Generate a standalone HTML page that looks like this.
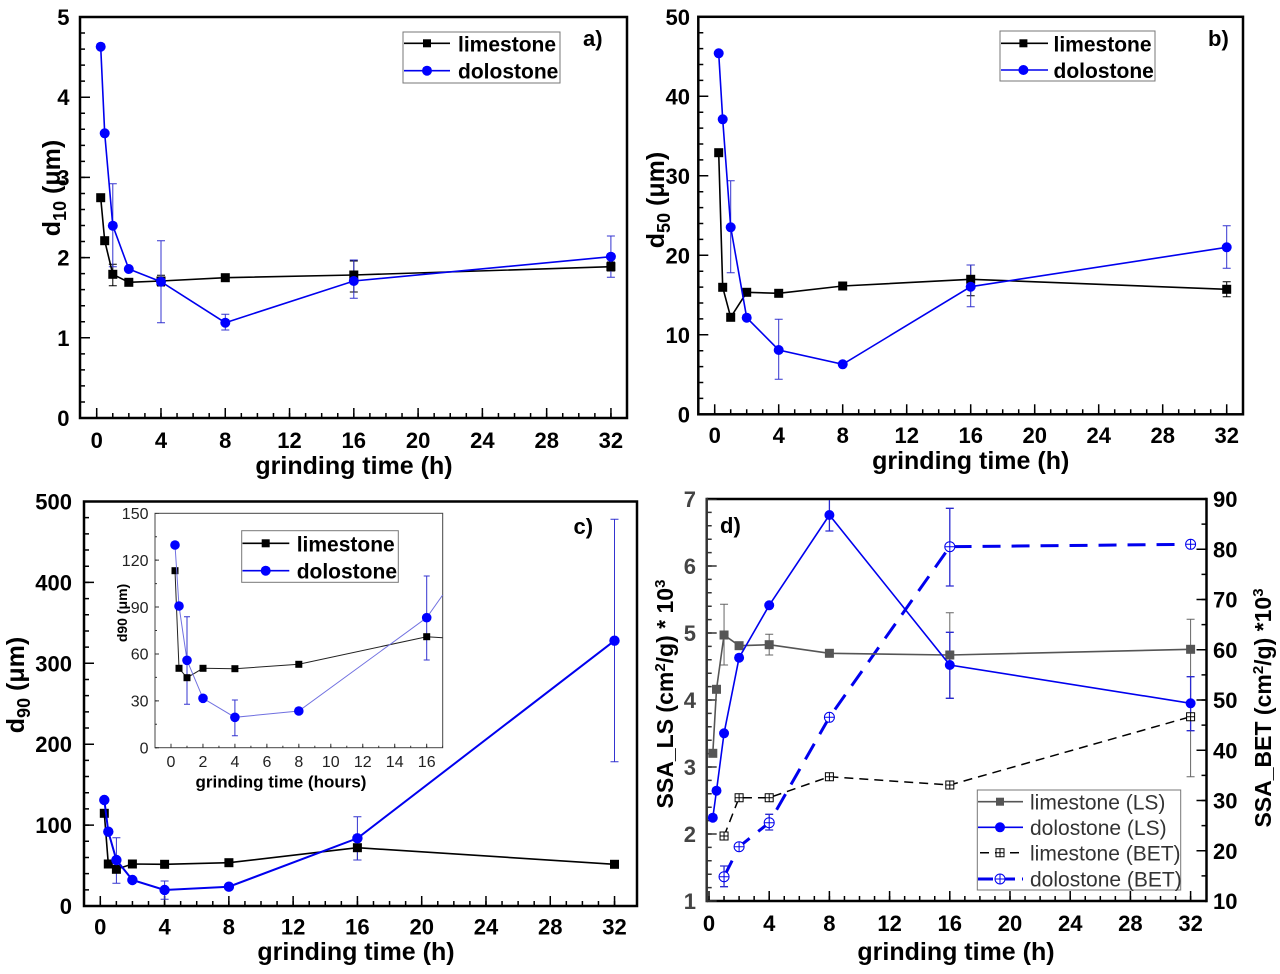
<!DOCTYPE html>
<html><head><meta charset="utf-8"><style>
html,body{margin:0;padding:0;background:#fff;}
svg{display:block;}
text{font-family:"Liberation Sans",Arial,sans-serif;}
</style></head><body>
<svg width="1280" height="974" viewBox="0 0 1280 974" xmlns="http://www.w3.org/2000/svg">
<rect width="1280" height="974" fill="#fff"/>

<!-- ================= PANEL A ================= -->
<g>
<rect x="80" y="17" width="547" height="401" fill="none" stroke="#000" stroke-width="2.5"/>
<g stroke="#000">
<line x1="95.95" y1="415.5" x2="612" y2="415.5" stroke-width="5" stroke-dasharray="1.5 14.57"/>
<line x1="95.95" y1="413" x2="612" y2="413" stroke-width="10" stroke-dasharray="1.5 62.78"/>
<line x1="82.5" y1="418.75" x2="82.5" y2="17" stroke-width="5" stroke-dasharray="1.5 14.54"/>
<line x1="85" y1="418.75" x2="85" y2="17" stroke-width="10" stroke-dasharray="1.5 78.7"/>
</g>
<g font-size="22" font-weight="bold" text-anchor="middle">
<text x="96.7" y="448">0</text><text x="161" y="448">4</text><text x="225.3" y="448">8</text>
<text x="289.5" y="448">12</text><text x="353.8" y="448">16</text><text x="418.1" y="448">20</text>
<text x="482.4" y="448">24</text><text x="546.7" y="448">28</text><text x="610.9" y="448">32</text>
</g>
<g font-size="22" font-weight="bold" text-anchor="end">
<text x="69.5" y="426">0</text><text x="69.5" y="345.8">1</text><text x="69.5" y="265.6">2</text>
<text x="69.5" y="185.4">3</text><text x="69.5" y="105.2">4</text><text x="69.5" y="25">5</text>
</g>
<text x="354" y="474" font-size="25" font-weight="bold" text-anchor="middle">grinding time (h)</text>
<text transform="translate(60,188) rotate(-90)" font-size="25" font-weight="bold" text-anchor="middle">d<tspan dy="6" font-size="18">10</tspan><tspan dy="-6"> (μm)</tspan></text>
<text x="583" y="46" font-size="22" font-weight="bold">a)</text>
<path d="M112.8 264.3V285.7M108.8 264.3H116.8M108.8 285.7H116.8 M161 275.3V286M157 275.3H165M157 286H165 M353.8 261V292M349.8 261H357.8M349.8 292H357.8 M610.9 262V271M606.9 262H614.9M606.9 271H614.9" stroke="#000" stroke-width="1" fill="none"/>
<path d="M112.8 183.7V266.7M108.8 183.7H116.8M108.8 266.7H116.8 M161 240.7V322.7M157 240.7H165M157 322.7H165 M225.3 314.3V330M221.3 314.3H229.3M221.3 330H229.3 M353.8 260V298.3M349.8 260H357.8M349.8 298.3H357.8 M610.9 236V277.3M606.9 236H614.9M606.9 277.3H614.9" stroke="#3434d0" stroke-width="1" fill="none"/>
<polyline points="100.7,197.7 104.7,240.7 112.8,274.3 128.8,282.3 161,281 225.3,277.7 353.8,275 610.9,266.7" fill="none" stroke="#000" stroke-width="1.6"/>
<g fill="#000">
<rect x="96.2" y="193.2" width="9" height="9"/><rect x="100.2" y="236.2" width="9" height="9"/><rect x="108.3" y="269.8" width="9" height="9"/><rect x="124.3" y="277.8" width="9" height="9"/><rect x="156.5" y="276.5" width="9" height="9"/><rect x="220.8" y="273.2" width="9" height="9"/><rect x="349.3" y="270.5" width="9" height="9"/><rect x="606.4" y="262.2" width="9" height="9"/>
</g>
<polyline points="100.7,46.7 104.7,133.3 112.8,225.7 128.8,269 161,281.7 225.3,322.7 353.8,281 610.9,256.7" fill="none" stroke="#0000ee" stroke-width="1.6"/>
<g fill="#0000ff">
<circle cx="100.7" cy="46.7" r="5"/><circle cx="104.7" cy="133.3" r="5"/><circle cx="112.8" cy="225.7" r="5"/><circle cx="128.8" cy="269" r="5"/><circle cx="161" cy="281.7" r="5"/><circle cx="225.3" cy="322.7" r="5"/><circle cx="353.8" cy="281" r="5"/><circle cx="610.9" cy="256.7" r="5"/>
</g>
<rect x="403" y="32" width="157" height="51" fill="#fff" stroke="#777" stroke-width="1"/>
<line x1="404" y1="43.3" x2="450" y2="43.3" stroke="#000" stroke-width="1.6"/>
<rect x="423" y="39.3" width="8" height="8" fill="#000"/>
<line x1="404" y1="70.7" x2="450" y2="70.7" stroke="#0000ee" stroke-width="1.6"/>
<circle cx="427" cy="70.7" r="5" fill="#0000ff"/>
<text x="458" y="51.5" font-size="21" font-weight="bold">limestone</text>
<text x="458" y="78.7" font-size="21" font-weight="bold">dolostone</text>
</g>

<!-- ================= PANEL B ================= -->
<g>
<rect x="698.3" y="16.8" width="544.7" height="397.5" fill="none" stroke="#000" stroke-width="2.5"/>
<g stroke="#000">
<line x1="713.95" y1="411.8" x2="1228" y2="411.8" stroke-width="5" stroke-dasharray="1.5 14.5"/>
<line x1="713.95" y1="409.3" x2="1228" y2="409.3" stroke-width="10" stroke-dasharray="1.5 62.5"/>
<line x1="700.8" y1="415.05" x2="700.8" y2="16.8" stroke-width="5" stroke-dasharray="1.5 14.4"/>
<line x1="703.3" y1="415.05" x2="703.3" y2="16.8" stroke-width="10" stroke-dasharray="1.5 78"/>
</g>
<g font-size="22" font-weight="bold" text-anchor="middle">
<text x="714.7" y="443">0</text><text x="778.7" y="443">4</text><text x="842.7" y="443">8</text>
<text x="906.7" y="443">12</text><text x="970.7" y="443">16</text><text x="1034.7" y="443">20</text>
<text x="1098.7" y="443">24</text><text x="1162.7" y="443">28</text><text x="1226.7" y="443">32</text>
</g>
<g font-size="22" font-weight="bold" text-anchor="end">
<text x="690" y="422.3">0</text><text x="690" y="342.8">10</text><text x="690" y="263.3">20</text>
<text x="690" y="183.8">30</text><text x="690" y="104.3">40</text><text x="690" y="24.8">50</text>
</g>
<text x="970.7" y="469" font-size="25" font-weight="bold" text-anchor="middle">grinding time (h)</text>
<text transform="translate(664,200) rotate(-90)" font-size="25" font-weight="bold" text-anchor="middle">d<tspan dy="6" font-size="18">50</tspan><tspan dy="-6"> (μm)</tspan></text>
<text x="1208" y="46" font-size="22" font-weight="bold">b)</text>
<path d="M970.7 265V295.7M966.7 265H974.7M966.7 295.7H974.7 M1226.7 281.7V296.7M1222.7 281.7H1230.7M1222.7 296.7H1230.7" stroke="#000" stroke-width="1" fill="none"/>
<path d="M730.7 180.7V272.7M726.7 180.7H734.7M726.7 272.7H734.7 M778.7 319.3V379.3M774.7 319.3H782.7M774.7 379.3H782.7 M970.7 265V306.7M966.7 265H974.7M966.7 306.7H974.7 M1226.7 225.7V268.3M1222.7 225.7H1230.7M1222.7 268.3H1230.7" stroke="#3434d0" stroke-width="1" fill="none"/>
<polyline points="718.7,152.7 722.7,287.3 730.7,317.3 746.7,292.3 778.7,293.3 842.7,286 970.7,279.3 1226.7,289.3" fill="none" stroke="#000" stroke-width="1.6"/>
<g fill="#000">
<rect x="714.2" y="148.2" width="9" height="9"/><rect x="718.2" y="282.8" width="9" height="9"/><rect x="726.2" y="312.8" width="9" height="9"/><rect x="742.2" y="287.8" width="9" height="9"/><rect x="774.2" y="288.8" width="9" height="9"/><rect x="838.2" y="281.5" width="9" height="9"/><rect x="966.2" y="274.8" width="9" height="9"/><rect x="1222.2" y="284.8" width="9" height="9"/>
</g>
<polyline points="718.7,53.3 722.7,119.3 730.7,227.3 746.7,317.7 778.7,350 842.7,364.3 970.7,286.7 1226.7,247.3" fill="none" stroke="#0000ee" stroke-width="1.6"/>
<g fill="#0000ff">
<circle cx="718.7" cy="53.3" r="5"/><circle cx="722.7" cy="119.3" r="5"/><circle cx="730.7" cy="227.3" r="5"/><circle cx="746.7" cy="317.7" r="5"/><circle cx="778.7" cy="350" r="5"/><circle cx="842.7" cy="364.3" r="5"/><circle cx="970.7" cy="286.7" r="5"/><circle cx="1226.7" cy="247.3" r="5"/>
</g>
<rect x="1000" y="31" width="155" height="50" fill="#fff" stroke="#777" stroke-width="1"/>
<line x1="1001" y1="43.3" x2="1048" y2="43.3" stroke="#000" stroke-width="1.6"/>
<rect x="1019.4" y="39.3" width="8" height="8" fill="#000"/>
<line x1="1001" y1="70" x2="1048" y2="70" stroke="#0000ee" stroke-width="1.6"/>
<circle cx="1023.4" cy="70" r="5" fill="#0000ff"/>
<text x="1053.5" y="51.5" font-size="21" font-weight="bold">limestone</text>
<text x="1053.5" y="78" font-size="21" font-weight="bold">dolostone</text>
</g>

<!-- ================= PANEL C ================= -->
<g>
<rect x="84" y="501.5" width="553" height="404.5" fill="none" stroke="#000" stroke-width="2.5"/>
<g stroke="#000">
<line x1="99.55" y1="903.5" x2="616" y2="903.5" stroke-width="5" stroke-dasharray="1.5 14.57"/>
<line x1="99.55" y1="901" x2="616" y2="901" stroke-width="10" stroke-dasharray="1.5 62.78"/>
<line x1="86.5" y1="906.75" x2="86.5" y2="501.5" stroke-width="5" stroke-dasharray="1.5 14.68"/>
<line x1="89" y1="906.75" x2="89" y2="501.5" stroke-width="10" stroke-dasharray="1.5 79.4"/>
</g>
<g font-size="22" font-weight="bold" text-anchor="middle">
<text x="100.3" y="934.5">0</text><text x="164.6" y="934.5">4</text><text x="228.9" y="934.5">8</text>
<text x="293.1" y="934.5">12</text><text x="357.4" y="934.5">16</text><text x="421.7" y="934.5">20</text>
<text x="486" y="934.5">24</text><text x="550.3" y="934.5">28</text><text x="614.5" y="934.5">32</text>
</g>
<g font-size="22" font-weight="bold" text-anchor="end">
<text x="72" y="914">0</text><text x="72" y="833.1">100</text><text x="72" y="752.2">200</text>
<text x="72" y="671.3">300</text><text x="72" y="590.4">400</text><text x="72" y="509.5">500</text>
</g>
<text x="356" y="960" font-size="25" font-weight="bold" text-anchor="middle">grinding time (h)</text>
<text transform="translate(24,685) rotate(-90)" font-size="25" font-weight="bold" text-anchor="middle">d<tspan dy="6" font-size="18">90</tspan><tspan dy="-6"> (μm)</tspan></text>
<text x="573.5" y="534" font-size="22" font-weight="bold">c)</text>
<path d="M357.4 835V860M353.4 835H361.4M353.4 860H361.4" stroke="#000" stroke-width="1" fill="none"/>
<path d="M116.4 837.7V883.3M112.4 837.7H120.4M112.4 883.3H120.4 M164.6 881V899.3M160.6 881H168.6M160.6 899.3H168.6 M357.4 816.7V860M353.4 816.7H361.4M353.4 860H361.4 M614.5 519.3V761.7M610.5 519.3H618.5M610.5 761.7H618.5" stroke="#3434d0" stroke-width="1" fill="none"/>
<polyline points="104.3,813.3 108.3,864 116.4,869.3 132.4,864 164.6,864.3 228.9,862.7 357.4,847.7 614.5,864.3" fill="none" stroke="#000" stroke-width="1.6"/>
<g fill="#000">
<rect x="99.8" y="808.8" width="9" height="9"/><rect x="103.8" y="859.5" width="9" height="9"/><rect x="111.9" y="864.8" width="9" height="9"/><rect x="127.9" y="859.5" width="9" height="9"/><rect x="160.1" y="859.8" width="9" height="9"/><rect x="224.4" y="858.2" width="9" height="9"/><rect x="352.9" y="843.2" width="9" height="9"/><rect x="610" y="859.8" width="9" height="9"/>
</g>
<polyline points="104.3,800 108.3,831.7 116.4,860 132.4,880 164.6,890 228.9,886.7 357.4,838.3 614.5,640.7" fill="none" stroke="#0000ee" stroke-width="2"/>
<g fill="#0000ff">
<circle cx="104.3" cy="800" r="5.2"/><circle cx="108.3" cy="831.7" r="5.2"/><circle cx="116.4" cy="860" r="5.2"/><circle cx="132.4" cy="880" r="5.2"/><circle cx="164.6" cy="890" r="5.2"/><circle cx="228.9" cy="886.7" r="5.2"/><circle cx="357.4" cy="838.3" r="5.2"/><circle cx="614.5" cy="640.7" r="5.2"/>
</g>

<!-- inset -->
<rect x="155" y="513.3" width="287.7" height="234.4" fill="#fff" stroke="#444" stroke-width="1"/>
<g stroke="#333">
<line x1="170.5" y1="745.7" x2="443" y2="745.7" stroke-width="4" stroke-dasharray="1 30.96"/>
<line x1="170.5" y1="746.7" x2="443" y2="746.7" stroke-width="2" stroke-dasharray="1 14.98"/>
<line x1="157" y1="748.2" x2="157" y2="513" stroke-width="4" stroke-dasharray="1 45.88"/>
<line x1="156" y1="748.2" x2="156" y2="513" stroke-width="2" stroke-dasharray="1 22.44"/>
</g>
<g font-size="16" fill="#222" text-anchor="middle">
<text x="171" y="767">0</text><text x="203" y="767">2</text><text x="234.9" y="767">4</text>
<text x="266.9" y="767">6</text><text x="298.8" y="767">8</text><text x="330.8" y="767">10</text>
<text x="362.8" y="767">12</text><text x="394.7" y="767">14</text><text x="426.7" y="767">16</text>
</g>
<g font-size="16" fill="#222" text-anchor="end">
<text x="148.5" y="753.5">0</text><text x="148.5" y="706.6">30</text><text x="148.5" y="659.7">60</text>
<text x="148.5" y="612.9">90</text><text x="148.5" y="566">120</text><text x="148.5" y="519.1">150</text>
</g>
<text x="281" y="787.5" font-size="17" font-weight="bold" text-anchor="middle">grinding time (hours)</text>
<text transform="translate(127,613) rotate(-90)" font-size="14" font-weight="bold" text-anchor="middle">d90 (μm)</text>
<path d="M187 616.7V704.3M184 616.7H190M184 704.3H190 M234.9 700V735.7M231.9 700H237.9M231.9 735.7H237.9 M426.7 576V660M423.7 576H429.7M423.7 660H429.7" stroke="#3434d0" stroke-width="1" fill="none"/>
<polyline points="175,570.7 179,668.3 187,677.7 203,668.3 234.9,668.7 298.8,664.3 426.7,636.7 442.7,637.8" fill="none" stroke="#222" stroke-width="1"/>
<g fill="#000">
<rect x="171.5" y="567.2" width="7" height="7"/><rect x="175.5" y="664.8" width="7" height="7"/><rect x="183.5" y="674.2" width="7" height="7"/><rect x="199.5" y="664.8" width="7" height="7"/><rect x="231.4" y="665.2" width="7" height="7"/><rect x="295.3" y="660.8" width="7" height="7"/><rect x="423.2" y="633.2" width="7" height="7"/>
</g>
<polyline points="175,545 179,606 187,660.3 203,698.3 234.9,717.3 298.8,711 426.7,617.7 442.7,595" fill="none" stroke="#7070e0" stroke-width="1"/>
<g fill="#0000ff">
<circle cx="175" cy="545" r="4.8"/><circle cx="179" cy="606" r="4.8"/><circle cx="187" cy="660.3" r="4.8"/><circle cx="203" cy="698.3" r="4.8"/><circle cx="234.9" cy="717.3" r="4.8"/><circle cx="298.8" cy="711" r="4.8"/><circle cx="426.7" cy="617.7" r="4.8"/>
</g>
<rect x="241.7" y="530.7" width="156.6" height="51.6" fill="#fff" stroke="#777" stroke-width="1"/>
<line x1="242.5" y1="543.3" x2="289.3" y2="543.3" stroke="#000" stroke-width="1.6"/>
<rect x="261.7" y="539.3" width="8" height="8" fill="#000"/>
<line x1="242.5" y1="570.7" x2="289.3" y2="570.7" stroke="#0000ee" stroke-width="1.6"/>
<circle cx="265.7" cy="570.7" r="5" fill="#0000ff"/>
<text x="296.7" y="551.5" font-size="21" font-weight="bold">limestone</text>
<text x="296.7" y="578.7" font-size="21" font-weight="bold">dolostone</text>
</g>

<!-- ================= PANEL D ================= -->
<g>
<line x1="706.7" y1="499" x2="1206.5" y2="499" stroke="#000" stroke-width="2.5"/>
<line x1="706.7" y1="901" x2="1206.5" y2="901" stroke="#000" stroke-width="2.5"/>
<line x1="706.7" y1="497.75" x2="706.7" y2="902.25" stroke="#333" stroke-width="2.5"/>
<line x1="1206.5" y1="497.75" x2="1206.5" y2="902.25" stroke="#000" stroke-width="2.5"/>
<g stroke="#000">
<line x1="708.25" y1="898.5" x2="1192" y2="898.5" stroke-width="5" stroke-dasharray="1.5 13.55"/>
<line x1="708.25" y1="896" x2="1192" y2="896" stroke-width="10" stroke-dasharray="1.5 58.7"/>
<line x1="1204" y1="901.75" x2="1204" y2="499" stroke-width="5" stroke-dasharray="1.5 23.625"/>
<line x1="1201.5" y1="901.75" x2="1201.5" y2="499" stroke-width="10" stroke-dasharray="1.5 48.75"/>
</g>
<g stroke="#333">
<line x1="709.2" y1="901.75" x2="709.2" y2="499" stroke-width="5" stroke-dasharray="1.5 11.9"/>
<line x1="711.7" y1="901.75" x2="711.7" y2="499" stroke-width="10" stroke-dasharray="1.5 65.5"/>
</g>
<g font-size="22" font-weight="bold" text-anchor="middle">
<text x="709" y="931">0</text><text x="769.2" y="931">4</text><text x="829.4" y="931">8</text>
<text x="889.6" y="931">12</text><text x="949.8" y="931">16</text><text x="1010" y="931">20</text>
<text x="1070.2" y="931">24</text><text x="1130.4" y="931">28</text><text x="1190.6" y="931">32</text>
</g>
<g font-size="22" font-weight="bold" text-anchor="end" fill="#444">
<text x="696" y="909">1</text><text x="696" y="842">2</text><text x="696" y="775">3</text>
<text x="696" y="708">4</text><text x="696" y="641">5</text><text x="696" y="574">6</text><text x="696" y="507">7</text>
</g>
<g font-size="22" font-weight="bold" text-anchor="start">
<text x="1213" y="909">10</text><text x="1213" y="858.8">20</text><text x="1213" y="808.5">30</text>
<text x="1213" y="758.3">40</text><text x="1213" y="708">50</text><text x="1213" y="657.8">60</text>
<text x="1213" y="607.5">70</text><text x="1213" y="557.3">80</text><text x="1213" y="507">90</text>
</g>
<text x="956" y="960" font-size="25" font-weight="bold" text-anchor="middle">grinding time (h)</text>
<text transform="translate(673,694) rotate(-90)" font-size="23" font-weight="bold" text-anchor="middle">SSA_LS (cm<tspan dy="-8" font-size="15">2</tspan><tspan dy="8">/g) * 10</tspan><tspan dy="-8" font-size="15">3</tspan></text>
<text transform="translate(1271,708) rotate(-90)" font-size="23" font-weight="bold" text-anchor="middle">SSA_BET (cm<tspan dy="-8" font-size="15">2</tspan><tspan dy="8">/g) *10</tspan><tspan dy="-8" font-size="15">3</tspan></text>
<text x="720" y="533" font-size="22" font-weight="bold">d)</text>

<path d="M724.05 604.3V665M720.05 604.3H728.05M720.05 665H728.05 M769.2 634.3V655M765.2 634.3H773.2M765.2 655H773.2 M949.8 612.7V698.3M945.8 612.7H953.8M945.8 698.3H953.8 M1190.6 619.3V776.7M1186.6 619.3H1194.6M1186.6 776.7H1194.6" stroke="#666" stroke-width="1" fill="none"/>
<path d="M829.4 500V531M825.4 531H833.4 M949.8 632.3V698.3M945.8 632.3H953.8M945.8 698.3H953.8 M1190.6 676.7V730.7M1186.6 676.7H1194.6M1186.6 730.7H1194.6" stroke="#2a2ad0" stroke-width="1.3" fill="none"/>
<path d="M724.05 866V886.7M720.05 866H728.05M720.05 886.7H728.05 M769.2 814.3V830M765.2 814.3H773.2M765.2 830H773.2 M949.8 508.3V586M945.8 508.3H953.8M945.8 586H953.8" stroke="#2a2ad0" stroke-width="1.3" fill="none"/>

<polyline points="724.05,836 739.1,797.7 769.2,797.7 829.4,776.7 949.8,785 1190.6,716.7" fill="none" stroke="#000" stroke-width="1.5" stroke-dasharray="9 6"/>
<g fill="#fff" stroke="#000" stroke-width="1">
<path d="M720.05 832h8v8h-8z M724.05 832v8 M720.05 836h8"/>
<path d="M735.1 793.7h8v8h-8z M739.1 793.7v8 M735.1 797.7h8"/>
<path d="M765.2 793.7h8v8h-8z M769.2 793.7v8 M765.2 797.7h8"/>
<path d="M825.4 772.7h8v8h-8z M829.4 772.7v8 M825.4 776.7h8"/>
<path d="M945.8 781h8v8h-8z M949.8 781v8 M945.8 785h8"/>
<path d="M1186.6 712.7h8v8h-8z M1190.6 712.7v8 M1186.6 716.7h8"/>
</g>
<polyline points="724.05,876.7 739.1,846.7 769.2,822.7 829.4,717.3 949.8,546.7 1190.6,544.3" fill="none" stroke="#0000ee" stroke-width="3" stroke-dasharray="18 11"/>
<g fill="#fff" stroke="#0000ee" stroke-width="1">
<circle cx="724.05" cy="876.7" r="5"/><path d="M724.05 871.7v10M719.05 876.7h10"/>
<circle cx="739.1" cy="846.7" r="5"/><path d="M739.1 841.7v10M734.1 846.7h10"/>
<circle cx="769.2" cy="822.7" r="5"/><path d="M769.2 817.7v10M764.2 822.7h10"/>
<circle cx="829.4" cy="717.3" r="5"/><path d="M829.4 712.3v10M824.4 717.3h10"/>
<circle cx="949.8" cy="546.7" r="5"/><path d="M949.8 541.7v10M944.8 546.7h10"/>
<circle cx="1190.6" cy="544.3" r="5"/><path d="M1190.6 539.3v10M1185.6 544.3h10"/>
</g>
<polyline points="712.8,753.3 716.5,689.3 724.05,635 739.1,645.7 769.2,644.7 829.4,653.3 949.8,655 1190.6,649.3" fill="none" stroke="#555" stroke-width="1.6"/>
<g fill="#555">
<rect x="708.3" y="748.8" width="9" height="9"/><rect x="712" y="684.8" width="9" height="9"/><rect x="719.55" y="630.5" width="9" height="9"/><rect x="734.6" y="641.2" width="9" height="9"/><rect x="764.7" y="640.2" width="9" height="9"/><rect x="824.9" y="648.8" width="9" height="9"/><rect x="945.3" y="650.5" width="9" height="9"/><rect x="1186.1" y="644.8" width="9" height="9"/>
</g>
<polyline points="712.8,817.7 716.5,790.7 724.05,733.3 739.1,657.7 769.2,605.3 829.4,515 949.8,665 1190.6,703.3" fill="none" stroke="#0000ee" stroke-width="1.6"/>
<g fill="#0000ff">
<circle cx="712.8" cy="817.7" r="5"/><circle cx="716.5" cy="790.7" r="5"/><circle cx="724.05" cy="733.3" r="5"/><circle cx="739.1" cy="657.7" r="5"/><circle cx="769.2" cy="605.3" r="5"/><circle cx="829.4" cy="515" r="5"/><circle cx="949.8" cy="665" r="5"/><circle cx="1190.6" cy="703.3" r="5"/>
</g>

<rect x="977.3" y="790" width="203.4" height="100" fill="#fff" stroke="#777" stroke-width="1"/>
<line x1="978" y1="801.7" x2="1023" y2="801.7" stroke="#555" stroke-width="1.6"/>
<rect x="996" y="797.7" width="8" height="8" fill="#555"/>
<line x1="978" y1="827.3" x2="1023" y2="827.3" stroke="#0000ee" stroke-width="1.6"/>
<circle cx="1000" cy="827.3" r="5" fill="#0000ff"/>
<line x1="980" y1="852.7" x2="1023" y2="852.7" stroke="#000" stroke-width="1.5" stroke-dasharray="9 6"/>
<path d="M996 848.7h8v8h-8z M1000 848.7v8 M996 852.7h8" fill="#fff" stroke="#000" stroke-width="1"/>
<line x1="978" y1="879" x2="1023" y2="879" stroke="#0000ee" stroke-width="3" stroke-dasharray="15 7"/>
<circle cx="1000" cy="879" r="5" fill="#fff" stroke="#0000ee" stroke-width="1"/>
<path d="M1000 874v10M995 879h10" stroke="#0000ee" stroke-width="1"/>
<g font-size="21" fill="#333">
<text x="1030" y="809.5">limestone (LS)</text>
<text x="1030" y="835">dolostone (LS)</text>
<text x="1030" y="860.5">limestone (BET)</text>
<text x="1030" y="886.7">dolostone (BET)</text>
</g>
</g>
</svg>
</body></html>
